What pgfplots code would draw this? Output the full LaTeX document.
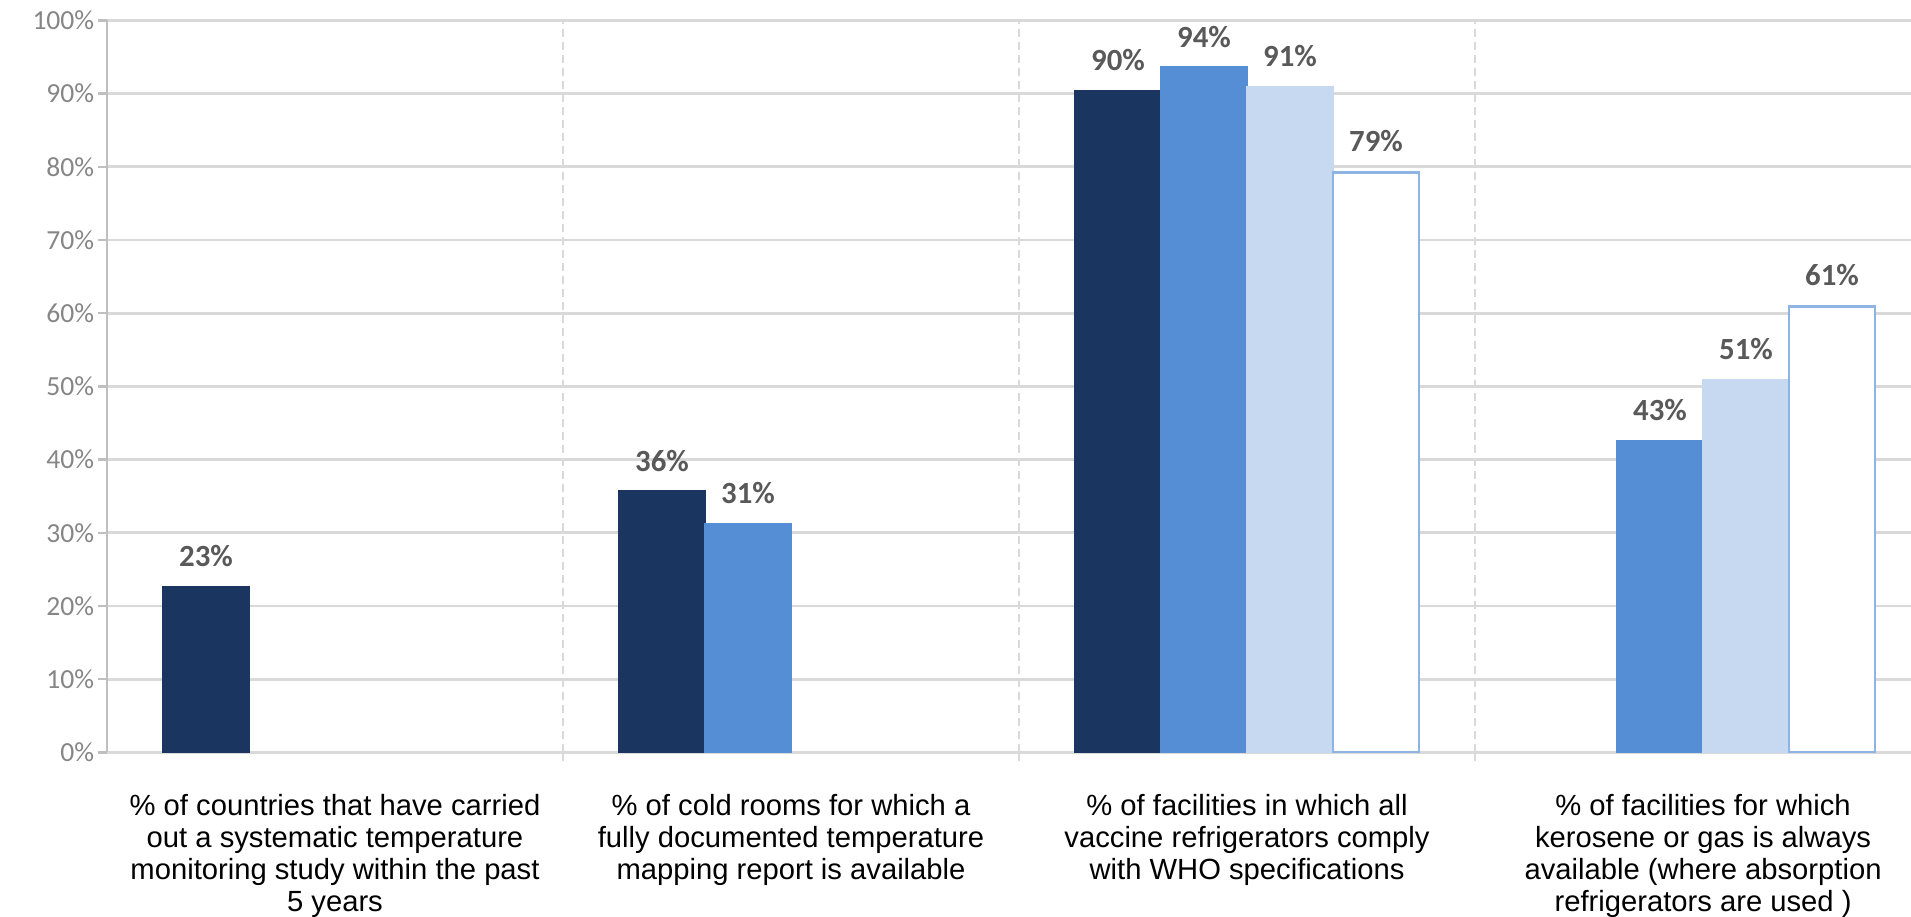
\documentclass[border=0pt]{standalone}
\usepackage{pgfplots}
\pgfplotsset{compat=1.18}
\usepackage{fontspec}
\setmainfont{Liberation Sans}
\newfontfamily\carlito{Carlito}
\definecolor{navy}{HTML}{1A3660}
\definecolor{medblue}{HTML}{558ED5}
\definecolor{lightblue}{HTML}{C6D9F1}
\definecolor{outlinec}{HTML}{8EB4E3}
\definecolor{gridc}{HTML}{D9D9D9}
\definecolor{axisc}{HTML}{BFBFBF}
\definecolor{tickc}{HTML}{868686}
\definecolor{labelc}{HTML}{595959}
\begin{document}
\begin{tikzpicture}
\begin{axis}[
  at={(0,0)}, anchor=south west,
  scale only axis, width=451pt, height=183pt,
  xmin=-0.5, xmax=3.456, ymin=0, ymax=100,
  ybar=0pt, bar width=21.5pt,
  axis x line*=bottom, axis y line*=left,
  x axis line style={draw=gridc, line width=0.7pt, -},
  y axis line style={draw=axisc, line width=0.6pt, -},
  tick align=outside, major tick length=2.25pt,
  ytick={0,10,...,100},
  yticklabels={0\%,10\%,20\%,30\%,40\%,50\%,60\%,70\%,80\%,90\%,100\%},
  yticklabel style={font=\carlito\fontsize{6.9}{8}\selectfont, text=tickc, anchor=east, inner sep=0pt, xshift=-0.75pt},
  ytick style={draw=axisc, line width=0.6pt},
  ymajorgrids=true,
  major grid style={draw=gridc, line width=0.7pt},
  xtick={0,1,2,3},
  xticklabels={{\% of countries that have carried\\out a systematic temperature\\monitoring study within the past\\5 years},
               {\% of cold rooms for which a\\fully documented temperature\\mapping report is available},
               {\% of facilities in which all\\vaccine refrigerators comply\\with WHO specifications},
               {\% of facilities for which\\kerosene or gas is always\\available (where absorption\\refrigerators are used )}},
  xticklabel style={font=\fontsize{7.3}{8.05}\selectfont, align=center, anchor=north, inner sep=0pt, yshift=-8pt, text=black},
  xtick style={draw=none},
  extra x ticks={0.5,1.5,2.5},
  extra x tick labels={},
  extra x tick style={grid=major, major grid style={draw=gridc, line width=0.5pt, dash pattern=on 2pt off 1.25pt}, xtick style={draw=gridc, line width=0.5pt}},
  nodes near coords={\pgfmathprintnumber[fixed,precision=0,assume math mode=true]{\pgfplotspointmeta}\%},
  nodes near coords style={font=\carlito\bfseries\fontsize{7.7}{8}\selectfont, text=labelc, inner sep=0pt, anchor=south, yshift=4.75pt},
]
\addplot[fill=navy, draw=navy] coordinates {(0,22.6) (1,35.7) (2,90.4)};
\addplot[fill=medblue, draw=medblue] coordinates {(1,31.2) (2,93.6) (3,42.6)};
\addplot[fill=lightblue, draw=lightblue] coordinates {(2,90.9) (3,50.9)};
\addplot[fill=white, draw=outlinec, line width=0.7pt] coordinates {(2,79.2) (3,60.9)};
\end{axis}
\pgfresetboundingbox
\useasboundingbox (-26.75pt,-41.1pt) rectangle (451pt,188.1pt);
\end{tikzpicture}
\end{document}
